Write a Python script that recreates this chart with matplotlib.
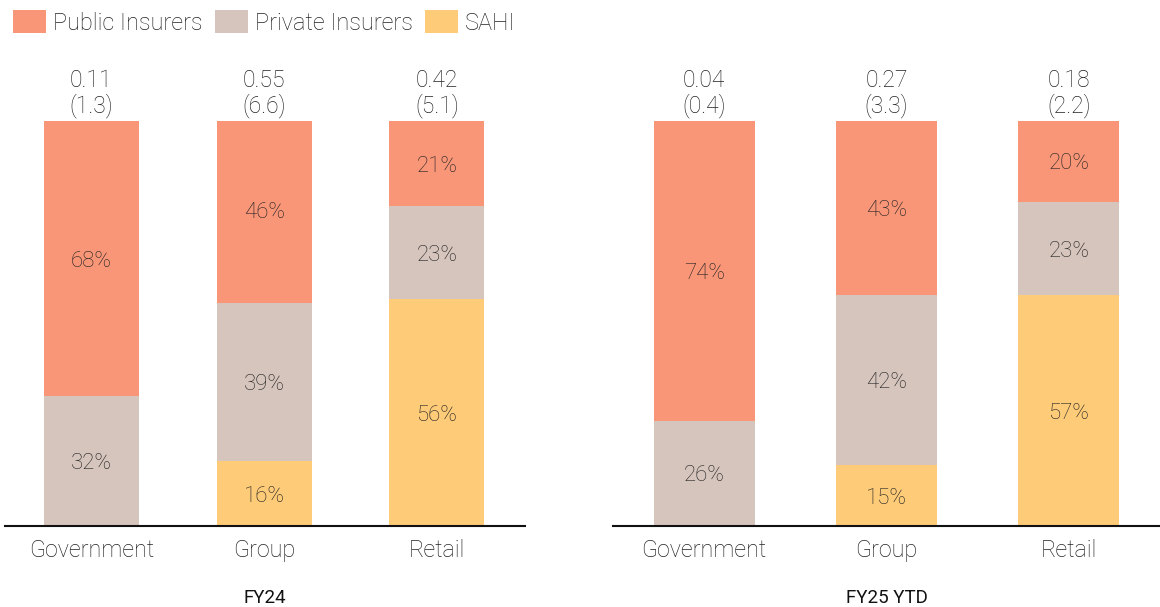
import numpy as np
import matplotlib.pyplot as plt
from matplotlib.patches import Patch

plt.rcParams['font.family'] = ['Roboto', 'DejaVu Sans']

categories = ["Government", "Group", "Retail"]
series = ["Public Insurers", "Private Insurers", "SAHI"]

fy24_public = [68, 46, 21]
fy24_private = [32, 39, 23]
fy24_sahi = [0, 16, 56]
fy24_total = ["0.11", "0.55", "0.42"]
fy24_total_br = ["1.3", "6.6", "5.1"]

fy25_public = [74, 43, 20]
fy25_private = [26, 42, 23]
fy25_sahi = [0, 15, 57]
fy25_total = ["0.04", "0.27", "0.18"]
fy25_total_br = ["0.4", "3.3", "2.2"]

colors = ["#F99677", "#D6C5BD", "#FECB78"]
txt = "#222222"


def draw_panel(ax, public, private, sahi, total, total_br, title, width, xmax):
    x = np.arange(len(categories))
    bottom = np.zeros(len(categories))
    # stack from bottom: SAHI, Private, Public
    for vals, c in zip([sahi, private, public], [colors[2], colors[1], colors[0]]):
        vals = np.array(vals, dtype=float)
        ax.bar(x, vals, width, bottom=bottom, color=c, linewidth=0)
        for xi, b, v in zip(x, bottom, vals):
            if v > 0:
                ax.text(xi, b + v / 2, f"{int(v)}%", ha="center", va="center_baseline",
                        fontsize=16, color=txt, fontweight="light")
        bottom += vals
    for xi, t, tb in zip(x, total, total_br):
        ax.annotate(f"{t}\n({tb})", (xi, 100), xytext=(0, 2), textcoords="offset points",
                    ha="center", va="bottom", fontsize=16.5, color=txt,
                    fontweight="light", linespacing=1.1)
    ax.set_xlim(-0.5, xmax)
    ax.set_ylim(0, 100)
    ax.set_xticks(x)
    ax.set_xticklabels(categories, fontsize=16.8, color=txt, fontweight="light")
    ax.tick_params(axis="x", length=0, pad=9.5)
    ax.set_yticks([])
    for s in ["top", "right", "left"]:
        ax.spines[s].set_visible(False)
    ax.spines["bottom"].set_linewidth(1.5)
    ax.spines["bottom"].set_color("#111111")
    ax.set_xlabel(title, fontsize=13.5, color="#111111", labelpad=19)


fig = plt.figure(figsize=(11.6, 6.07), dpi=100)
ax1 = fig.add_axes([0.0043, 0.1334, 0.4483, 0.6673])
ax2 = fig.add_axes([0.5284, 0.1334, 0.4716, 0.6673])

draw_panel(ax1, fy24_public, fy24_private, fy24_sahi, fy24_total, fy24_total_br, "FY24", 0.55, 2.51)
draw_panel(ax2, fy25_public, fy25_private, fy25_sahi, fy25_total, fy25_total_br, "FY25 YTD", 0.553, 2.5)

handles = [Patch(facecolor=c, edgecolor="none") for c in colors]
fig.legend(handles, series, loc="upper left", bbox_to_anchor=(-0.001, 1.006), ncol=3,
           frameon=False, handlelength=1.4, handleheight=1.1,
           handletextpad=0.32, columnspacing=0.5, borderaxespad=0.2,
           prop={"weight": "light", "size": 16.9})
for t in fig.legends[0].get_texts():
    t.set_color(txt)

fig.savefig("out.png", dpi=100)
